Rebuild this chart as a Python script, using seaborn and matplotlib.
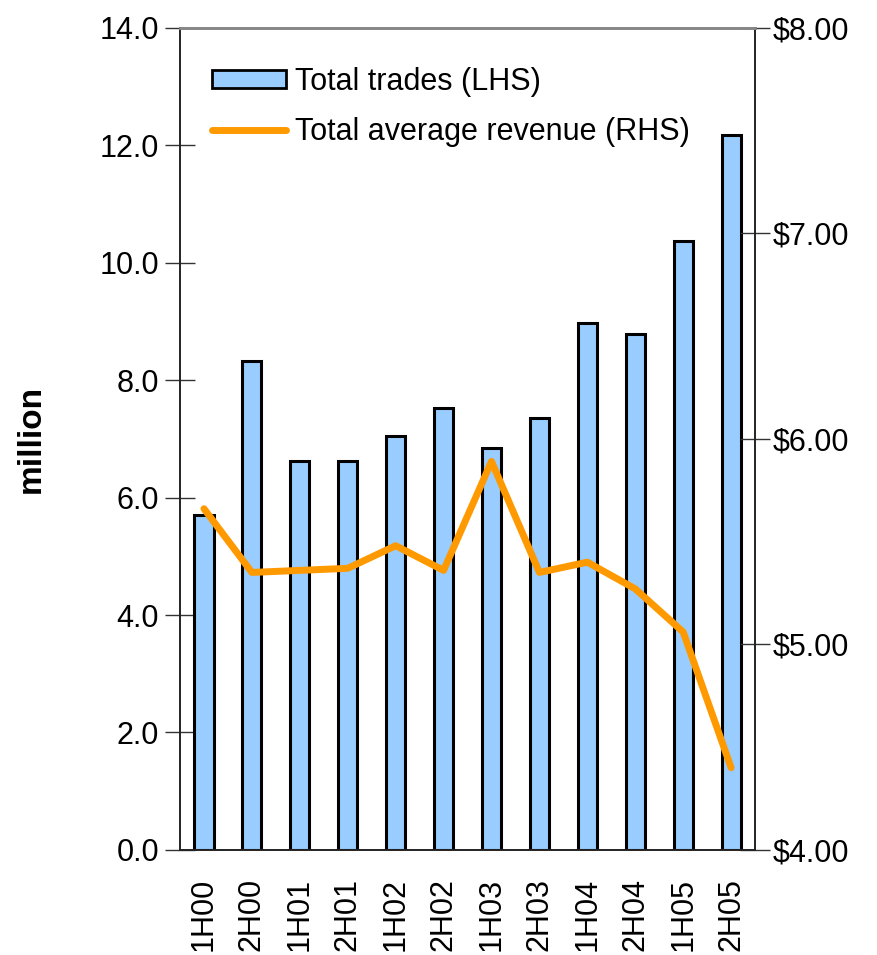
import numpy as np
import pandas as pd
import matplotlib
matplotlib.use("Agg")
import matplotlib.pyplot as plt
from matplotlib.patches import Patch
from matplotlib.lines import Line2D
from matplotlib.ticker import FormatStrFormatter, FixedLocator
import seaborn as sns

periods = ['1H00', '2H00', '1H01', '2H01', '1H02', '2H02',
           '1H03', '2H03', '1H04', '2H04', '1H05', '2H05']
trades = [5.70, 8.33, 6.63, 6.63, 7.04, 7.53, 6.85, 7.35, 8.98, 8.79, 10.37, 12.18]
revenue = [5.66, 5.35, 5.36, 5.37, 5.48, 5.36, 5.89, 5.35, 5.40, 5.27, 5.06, 4.40]

bar_color = '#99CCFF'
line_color = '#FF9900'

sns.set_style('white')
plt.rcParams['font.family'] = ['Liberation Sans', 'DejaVu Sans']
plt.rcParams['text.color'] = 'black'
plt.rcParams['xtick.color'] = 'black'
plt.rcParams['ytick.color'] = 'black'
plt.rcParams['axes.labelcolor'] = 'black'

FS = 22

df = pd.DataFrame({'period': periods, 'trades': trades, 'revenue': revenue})

fig = plt.figure(figsize=(8.78, 9.55), dpi=100)
ax = fig.add_axes([0.205, 0.110, 0.655, 0.861])

sns.barplot(data=df, x='period', y='trades', color=bar_color, saturation=1,
            edgecolor='black', linewidth=2.2, width=0.4, ax=ax)
ax.set_ylim(0, 14)
ax.set_xlim(-0.5, len(periods) - 0.5)
ax.yaxis.set_major_locator(FixedLocator(np.arange(0, 14.1, 2)))
ax.yaxis.set_major_formatter(FormatStrFormatter('%.1f'))
ax.set_xlabel('')
ax.set_ylabel('million', fontsize=24, fontweight='bold', labelpad=38)

ax2 = ax.twinx()
sns.lineplot(data=df, x='period', y='revenue', color=line_color, linewidth=5,
             sort=False, ax=ax2)
ax2.set_ylim(4, 8)
ax2.yaxis.set_major_locator(FixedLocator([4, 5, 6, 7, 8]))
ax2.yaxis.set_major_formatter(FormatStrFormatter('$%.2f'))
ax2.set_ylabel('')
ax2.set_xlim(-0.5, len(periods) - 0.5)

# x ticks: boundaries between categories
ax.set_xticks(range(len(periods)))
ax.set_xticklabels(periods, rotation=90, fontsize=FS)
ax.tick_params(axis='x', which='major', length=0, pad=20)
ax.set_xticks(np.arange(-0.5, len(periods), 1), minor=True)
ax.tick_params(axis='x', which='minor', direction='inout', length=22, width=1, color='#333333')
ax.tick_params(axis='y', direction='inout', length=22, width=1, labelsize=FS, pad=4, color='#333333')
ax2.tick_params(axis='y', direction='inout', length=22, width=1, labelsize=FS, pad=2, color='#333333')

for a in (ax, ax2):
    for side in ('left', 'right', 'bottom'):
        a.spines[side].set_color('#222222')
        a.spines[side].set_linewidth(1.2)
    a.spines['top'].set_color('#888888')
    a.spines['top'].set_linewidth(2)

handles = [Patch(facecolor=bar_color, edgecolor='black', linewidth=2),
           Line2D([0], [0], color=line_color, linewidth=5, solid_capstyle='round')]
ax2.legend(handles, ['Total trades (LHS)', 'Total average revenue (RHS)'],
           loc='upper left', bbox_to_anchor=(0.035, 0.967), frameon=False,
           fontsize=FS, handlelength=2.4, handleheight=0.55, handletextpad=0.3,
           labelspacing=0.65, borderaxespad=0)

fig.savefig('out.png', dpi=100)
